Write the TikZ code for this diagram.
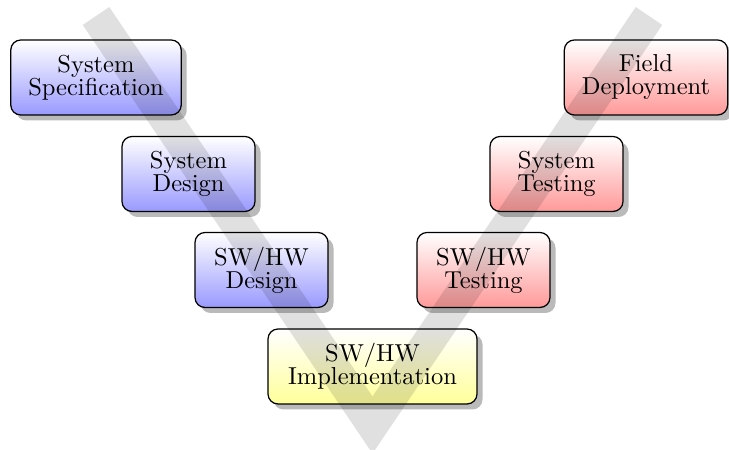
\documentclass[tikz,border=0pt]{standalone}
\usetikzlibrary{shadows}
\newcommand\phasefont{\fontsize{9.8}{9.2}\selectfont\lineskiplimit=-10pt\relax}
\begin{document}
\begin{tikzpicture}[x=0.4pt,y=-0.4pt,
  phase/.style={draw=black, line width=0.5pt, rounded corners=4pt,
    minimum width=53.2pt, minimum height=30pt, inner xsep=7pt,
    align=center, font=\phasefont,
    top color=white,
    drop shadow={shadow xshift=2.2pt, shadow yshift=-2.2pt, fill=black, opacity=.27}},
  spec/.style={phase, bottom color=blue!40},
  test/.style={phase, bottom color=red!40},
  impl/.style={phase, bottom color=yellow!40, minimum width=83.6pt},
  vband/.style={line width=12.8pt, draw=black, opacity=.12, line join=miter, line cap=butt}]
\useasboundingbox (0,0) rectangle (729,450);

% left branch: specification and design
\node[spec] (sysspec) at (96,77.5)   {System\\Specification};
\node[spec] (sysdes)  at (188.5,174) {System\\Design};
\node[spec] (hwdes)   at (261.5,270) {SW/HW\\Design};

% bottom: implementation
\node[impl] (impl) at (372.5,366.5) {SW/HW\\Implementation};

% right branch: testing and deployment
\node[test] (hwtest)  at (483.5,270) {SW/HW\\Testing};
\node[test] (systest) at (556.5,174) {System\\Testing};
\node[test] (deploy)  at (646,77.5)  {Field\\Deployment};

% translucent V over the phases
\coordinate (vl) at (96,16);
\coordinate (vb) at (372.5,425);
\coordinate (vr) at (649,16);
\begin{scope}
  \clip (0,0) rectangle (729,450);
  \draw[vband] (vl) -- (vb) -- (vr);
\end{scope}
\end{tikzpicture}
\end{document}
